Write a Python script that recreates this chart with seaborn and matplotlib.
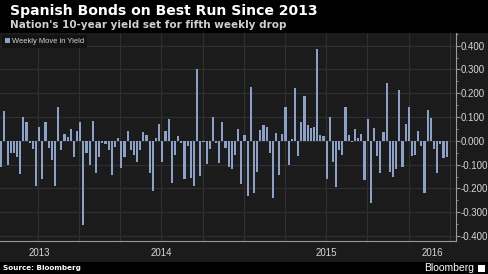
import numpy as np
import pandas as pd
import matplotlib
matplotlib.use("Agg")
import matplotlib.pyplot as plt
import matplotlib.ticker as mticker
import matplotlib.transforms as mtransforms
from matplotlib.patches import Rectangle
import seaborn as sns

# ---------------- data ----------------
title = "Spanish Bonds on Best Run Since 2013"
subtitle = "Nation's 10-year yield set for fifth weekly drop"
series_name = "Weekly Move in Yield"
source = "Source: Bloomberg"

first_week = "2013-07-12"
weekly_move = [
    -0.110, 0.124, -0.100, -0.050, -0.050, -0.070, -0.140, 0.100, 0.080, -0.010,
    -0.035, -0.190, 0.060, -0.160, 0.080, -0.030, -0.080, -0.190, 0.140, -0.040,
    0.030, 0.015, 0.050, -0.070, 0.040, 0.080, -0.355, -0.050, -0.100, 0.085,
    -0.137, -0.070, -0.010, -0.013, -0.040, -0.145, -0.027, 0.012, -0.115, -0.070,
    0.040, -0.040, -0.060, -0.087, -0.040, 0.035, 0.025, -0.137, -0.210, 0.012,
    0.070, -0.087, 0.040, 0.090, -0.176, -0.060, 0.020, -0.010, -0.160, -0.020,
    -0.158, -0.190, 0.300, -0.148, -0.007, -0.097, -0.035, 0.100, -0.010, -0.094,
    0.080, -0.030, -0.110, -0.120, -0.060, 0.050, -0.180, 0.025, -0.230, 0.225,
    -0.220, -0.130, 0.045, 0.067, 0.060, -0.050, -0.240, 0.032, -0.145, 0.030,
    0.140, -0.100, 0.008, 0.220, -0.063, 0.080, 0.190, 0.067, 0.053, 0.060,
    0.387, 0.025, 0.020, -0.162, 0.100, -0.087, -0.196, -0.040, -0.060, 0.142,
    0.025, -0.007, 0.050, 0.012, 0.030, -0.165, 0.090, -0.260, 0.053, -0.063,
    -0.137, 0.035, 0.245, -0.130, -0.150, -0.120, 0.215, -0.110, 0.070, 0.140,
    -0.063, -0.060, 0.042, -0.020, -0.220, 0.130, 0.095, -0.035, -0.135, -0.015,
    -0.073, -0.070,
]
year_labels = ["2013", "2014", "2015", "2016"]
y_ticks = [-0.4, -0.3, -0.2, -0.1, 0.0, 0.1, 0.2, 0.3, 0.4]

weeks = pd.date_range(first_week, periods=len(weekly_move), freq="7D")
df = pd.DataFrame({"week": np.arange(len(weekly_move)), "move": weekly_move})
t0 = weeks[0]


def pos(d):
    return (pd.Timestamp(d) - t0).days / 7.0


# ---------------- style ----------------
BG = "#1b1b1b"
GRID = "#303030"
BAR = "#8ca1c8"
TXT = "#d6d6d6"

sns.set_theme(style="dark")
plt.rcParams["font.family"] = ["Liberation Sans", "DejaVu Sans"]

W, H = 488, 274
fig = plt.figure(figsize=(W / 100, H / 100), dpi=100, facecolor="black")

# dark chart panel (plot + x label band)
fig.patches.append(Rectangle((0, (H - 262) / H), 1, (262 - 33) / H,
                             transform=fig.transFigure, facecolor=BG,
                             edgecolor="none", zorder=-5))

ax = fig.add_axes([0, (H - 241) / H, 455.5 / W, (241 - 33) / H])
ax.set_facecolor(BG)
ax.set_zorder(2)

sns.barplot(data=df, x="week", y="move", color=BAR, saturation=1,
            width=0.68, ax=ax, label=series_name, zorder=3,
            edgecolor="none", linewidth=0)

ax.set_xlim(-0.4, 143.8)
ax.set_ylim(-0.421, 0.453)

# horizontal grid
ax.set_yticks(y_ticks)
ax.yaxis.set_minor_locator(mticker.MultipleLocator(0.05))
ax.yaxis.set_major_formatter(mticker.FuncFormatter(lambda v, p: f"{round(v, 3) + 0.0:.3f}"))
ax.yaxis.tick_right()
ax.grid(False)
for v in y_ticks:
    ax.axhline(v, color=GRID, lw=0.8, zorder=1)

# quarterly vertical grid
quarters = pd.date_range("2013-10-01", "2016-04-01", freq="QS")
for q in quarters:
    ax.axvline(pos(q), color=GRID, lw=0.8, zorder=1)

ax.tick_params(axis="y", which="major", colors="#9a9a9a", length=3, width=0.8,
               labelcolor=TXT, labelsize=7, pad=1, direction="out")
ax.tick_params(axis="y", which="minor", colors="#9a9a9a", length=1.5, width=0.6,
               direction="out")

# x axis: month ticks, year separators
year_starts = [pd.Timestamp(f"{y}-01-01") for y in (2014, 2015, 2016)]
ax.set_xticks([pos(d) for d in year_starts])
ax.set_xticklabels([])
months = pd.date_range("2013-08-01", "2016-04-01", freq="MS")
ax.set_xticks([pos(m) for m in months], minor=True)
ax.tick_params(axis="x", which="major", colors="#555555", length=15, width=0.8,
               direction="out")
ax.tick_params(axis="x", which="minor", colors="#8a8a8a", length=2, width=0.6,
               direction="inout")
ax.set_xlabel("")
ax.set_ylabel("")

lo, hi = ax.get_xlim()
bounds = [lo] + [pos(d) for d in year_starts] + [hi]
trans = mtransforms.blended_transform_factory(ax.transData, ax.transAxes)
for lab, a, b in zip(year_labels, bounds[:-1], bounds[1:]):
    ax.text((a + b) / 2, -0.035, lab, transform=trans, ha="center", va="top",
            color=TXT, fontsize=7)

for side in ("top", "left"):
    ax.spines[side].set_visible(False)
ax.spines["right"].set_color("#9a9a9a")
ax.spines["right"].set_linewidth(0.8)
ax.spines["bottom"].set_color("#9a9a9a")
ax.spines["bottom"].set_linewidth(0.8)

leg = ax.legend(loc="upper left", bbox_to_anchor=(0.0, 1.0), fontsize=5.4,
                frameon=True, handlelength=0.7, handleheight=0.7,
                handletextpad=0.3, borderpad=0.4, borderaxespad=0.2)
leg.get_frame().set_facecolor("#141414")
leg.get_frame().set_edgecolor("none")
leg.get_frame().set_alpha(1)
for t in leg.get_texts():
    t.set_color(TXT)

# header
fig.text(10 / W, 1 - 11 / H, title, color="white", fontsize=10.1,
         fontweight="bold", ha="left", va="center",
         family=["DejaVu Sans"])
fig.text(10 / W, 1 - 25.5 / H, subtitle, color="#cfcfcf", fontsize=7.45,
         fontweight="bold", ha="left", va="center", family=["DejaVu Sans"])

# footer
fig.text(3 / W, 1 - 268 / H, source, color="white", fontsize=5.2,
         fontweight="bold", ha="left", va="center", family=["DejaVu Sans"])
fig.text(474 / W, 1 - 268 / H, "Bloomberg", color="white", fontsize=7.5,
         ha="right", va="center")
fig.patches.append(Rectangle((478 / W, 1 - 272 / H), 7 / W, 7 / H,
                             transform=fig.transFigure, facecolor="white",
                             edgecolor="none"))

fig.savefig("out.png", dpi=100, facecolor="black")
